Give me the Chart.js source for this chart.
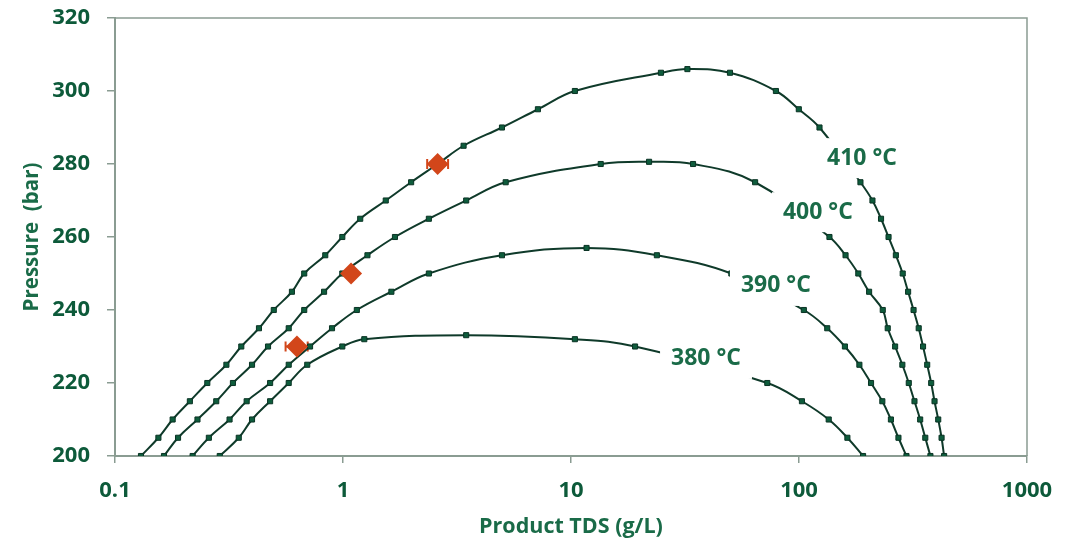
<!DOCTYPE html>
<html>
<head>
<meta charset="utf-8">
<script src="https://cdn.jsdelivr.net/npm/chart.js@4.4.0/dist/chart.umd.min.js"></script>
<style>
  html, body { margin: 0; padding: 0; background: #fff; }
  #wrap { width: 1070px; height: 544px; }
</style>
</head>
<body>
<div id="wrap"><canvas id="chart"></canvas></div>
<script>
// isotherms: product TDS (g/L) against pressure (bar)
const tds410 = [0.130, 0.155, 0.179, 0.213, 0.254, 0.308, 0.358, 0.428, 0.497, 0.597, 0.676, 0.836, 0.993, 1.19,
  1.54, 1.99, 2.6, 3.38, 4.98, 7.16, 10.4, 24.8, 32.4, 49.8, 79.2, 99.8, 123,
  186, 210, 229, 247, 266, 285, 301, 318, 335, 350, 365, 380, 393, 408, 422, 433]
const p410 = [200, 205, 210, 215, 220, 225, 230, 235, 240, 245, 250, 255, 260, 265,
  270, 275, 280, 285, 290, 295, 300, 305, 306, 305, 300, 295, 290,
  275, 270, 265, 260, 255, 250, 245, 240, 235, 230, 225, 220, 215, 210, 205, 200]

const tds400 = [0.164, 0.189, 0.230, 0.278, 0.329, 0.399, 0.469, 0.578, 0.676, 0.826, 0.993,
  1.28, 1.69, 2.38, 3.47, 5.17, 13.5, 22.0, 34.3, 64.2,
  136, 160, 182, 203, 233, 245, 264, 284, 303, 321, 340, 358, 377]
const p400 = [200, 205, 210, 215, 220, 225, 230, 235, 240, 245, 250,
  255, 260, 265, 270, 275, 280, 280.6, 280, 275,
  260, 255, 250, 245, 240, 235, 230, 225, 220, 215, 210, 205, 200]

const tds390 = [0.219, 0.258, 0.318, 0.378, 0.479, 0.578, 0.717, 0.895, 1.15,
  1.63, 2.38, 4.98, 11.7, 23.8, 50.5,
  105, 133, 159, 184, 207, 232, 253, 273, 296]
const p390 = [200, 205, 210, 215, 220, 225, 230, 235, 240,
  245, 250, 255, 257, 255, 250,
  240, 235, 230, 225, 220, 215, 210, 205, 200]

const tds380 = [0.288, 0.349, 0.399, 0.479, 0.578, 0.697, 0.993, 1.24, 3.47, 10.4, 19.1, 72.6, 103, 135, 163, 191]
const p380 = [200, 205, 210, 215, 220, 225, 230, 232, 233.1, 232, 230, 220, 215, 210, 205, 200]

// measured points with horizontal error bars
const measTds = [2.6, 1.085, 0.628]
const measP = [280, 250, 230]
const measLow = [2.34, 1.05, 0.56]
const measHigh = [2.89, 1.12, 0.70]

// isotherm labels, anchored in data units
const isoText = ['410 °C', '400 °C', '390 °C', '380 °C']
const isoTds = [189, 121, 79.2, 39.1]
const isoP = [281.6, 266.8, 246.6, 226.6]

const xTicks = [0.1, 1, 10, 100, 1000]

const green = '#0d5a3a'
const labelGreen = '#1a6b48'
const lineCol = '#0f3a2a'
const axisCol = '#8a9c92'
const font = 'Open Sans'

function pts(xs, ys) {
  return xs.map((x, i) => ({ x: x, y: ys[i] }))
}

function curve(xs, ys) {
  return {
    data: pts(xs, ys),
    borderColor: lineCol,
    borderWidth: 2,
    tension: 0.4,
    pointStyle: 'rect',
    pointRadius: 3.6,
    pointBackgroundColor: '#0e5c3c',
    pointBorderColor: '#0a3324',
    pointBorderWidth: 1,
    order: 2
  }
}

// top / right frame of the plot area
const framePlugin = {
  id: 'frame',
  beforeDatasetsDraw(chart) {
    const a = chart.chartArea, ctx = chart.ctx
    ctx.save()
    ctx.strokeStyle = axisCol
    ctx.lineWidth = 1.5
    ctx.beginPath()
    ctx.moveTo(a.left, a.top)
    ctx.lineTo(a.right, a.top)
    ctx.lineTo(a.right, a.bottom)
    ctx.stroke()
    ctx.restore()
  }
}

// error bars behind the diamonds
const errorPlugin = {
  id: 'errbars',
  beforeDatasetsDraw(chart) {
    const xs = chart.scales.x, ys = chart.scales.y, ctx = chart.ctx
    ctx.save()
    ctx.strokeStyle = '#d2461a'
    ctx.lineWidth = 2
    measP.forEach((p, i) => {
      const y = ys.getPixelForValue(p)
      const x0 = xs.getPixelForValue(measLow[i])
      const x1 = xs.getPixelForValue(measHigh[i])
      ctx.beginPath()
      ctx.moveTo(x0, y); ctx.lineTo(x1, y)
      ctx.moveTo(x0, y - 5); ctx.lineTo(x0, y + 5)
      ctx.moveTo(x1, y - 5); ctx.lineTo(x1, y + 5)
      ctx.stroke()
    })
    ctx.restore()
  }
}

// white boxed temperature labels over the curves
const isoLabelPlugin = {
  id: 'isoLabels',
  afterDatasetsDraw(chart) {
    const xs = chart.scales.x, ys = chart.scales.y, ctx = chart.ctx
    ctx.save()
    ctx.font = 'bold 23px "' + font + '"'
    ctx.textAlign = 'center'
    ctx.textBaseline = 'middle'
    isoText.forEach((t, i) => {
      const x = xs.getPixelForValue(isoTds[i])
      const y = ys.getPixelForValue(isoP[i])
      const w = ctx.measureText(t).width
      ctx.fillStyle = '#ffffff'
      ctx.fillRect(x - w / 2 - 11, y - 20, w + 22, 40)
      ctx.fillStyle = labelGreen
      ctx.fillText(t, x, y)
    })
    ctx.restore()
  }
}

new Chart(document.getElementById('chart'), {
  type: 'line',
  data: {
    datasets: [
      curve(tds410, p410),
      curve(tds400, p400),
      curve(tds390, p390),
      curve(tds380, p380),
      {
        data: pts(measTds, measP),
        showLine: false,
        pointStyle: 'rectRot',
        pointRadius: 11,
        pointBackgroundColor: '#d2461a',
        pointBorderColor: '#d2461a',
        pointBorderWidth: 0,
        order: 1
      }
    ]
  },
  options: {
    responsive: true,
    maintainAspectRatio: false,
    animation: false,
    events: [],
    layout: { padding: { left: 0, right: 43, top: 18, bottom: 0 } },
    plugins: {
      legend: { display: false },
      tooltip: { enabled: false }
    },
    scales: {
      x: {
        type: 'logarithmic',
        min: 0.1,
        max: 1000,
        afterBuildTicks(scale) {
          scale.ticks = xTicks.map(v => ({ value: v }))
        },
        afterFit(scale) { scale.height = 88 },
        border: { display: true, color: axisCol, width: 2 },
        grid: { drawOnChartArea: false, drawTicks: true, tickLength: 7, color: axisCol, lineWidth: 1.5 },
        ticks: {
          color: green,
          padding: 15,
          maxRotation: 0,
          font: { family: font, size: 22, weight: 'bold' },
          callback: v => String(v)
        },
        title: {
          display: true,
          text: 'Product TDS (g/L)',
          color: labelGreen,
          padding: { top: 0, bottom: 4 },
          font: { family: font, size: 21.5, weight: 'bold' }
        }
      },
      y: {
        min: 200,
        max: 320,
        afterFit(scale) {
          scale.width = 115
          scale.paddingTop = 0
          scale.paddingBottom = 0
        },
        border: { display: true, color: axisCol, width: 2 },
        grid: { drawOnChartArea: false, drawTicks: true, tickLength: 8, color: axisCol, lineWidth: 1.5 },
        ticks: {
          stepSize: 20,
          color: green,
          padding: 17,
          font: { family: font, size: 22, weight: 'bold' }
        },
        title: {
          display: true,
          text: 'Pressure  (bar)',
          color: labelGreen,
          padding: { top: 20, bottom: 0 },
          font: { family: font, size: 20.5, weight: 'bold' }
        }
      }
    }
  },
  plugins: [framePlugin, errorPlugin, isoLabelPlugin]
})
</script>
</body>
</html>
